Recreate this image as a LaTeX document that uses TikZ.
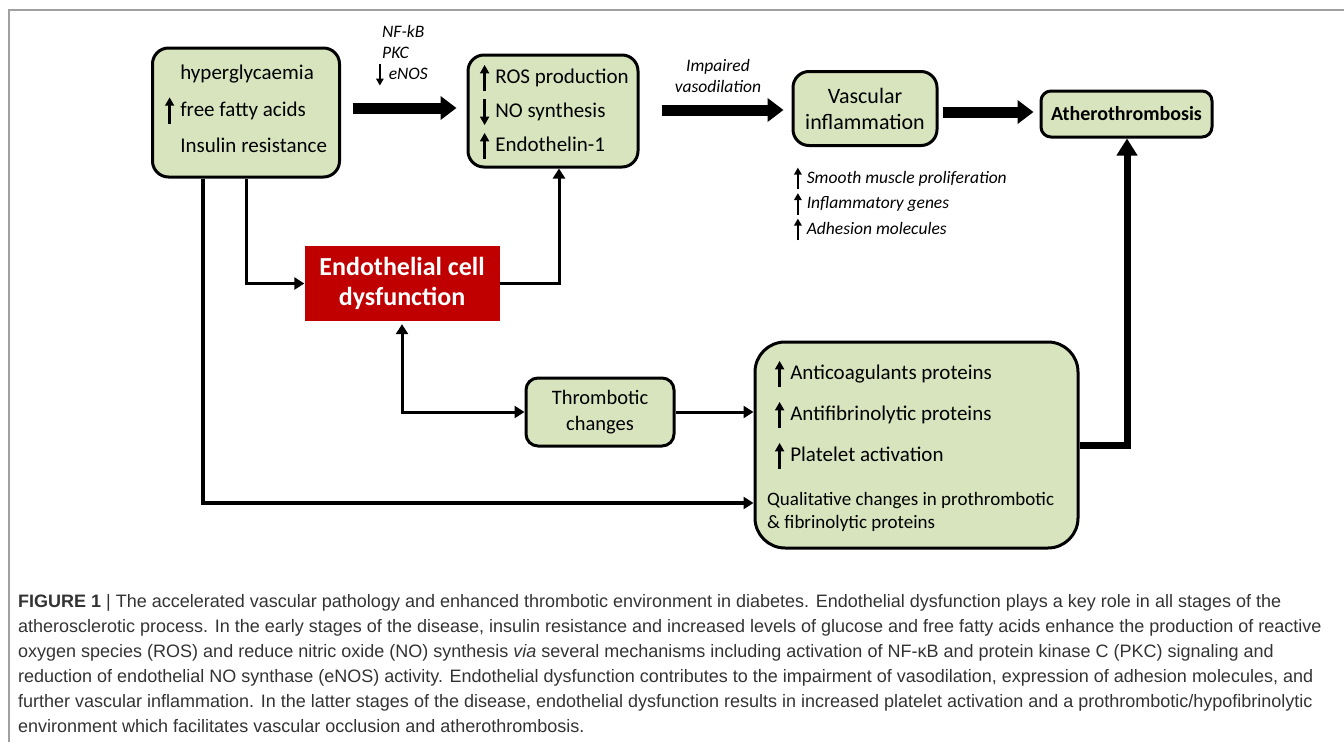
\documentclass[tikz,border=0pt]{standalone}
\usepackage{fontspec}
\setmainfont{Carlito}
\newfontfamily\capfont{Liberation Sans}
\usepackage{tikz}
\usetikzlibrary{positioning,arrows.meta}
\definecolor{boxgreen}{HTML}{D7E4BD}
\definecolor{ecdred}{HTML}{C00000}
\definecolor{capgray}{HTML}{333333}
\definecolor{framegray}{HTML}{A0A0A0}
\newcommand{\up}{\tikz[baseline=0pt]\draw[line width=0.12em,-{Triangle[length=0.4em,width=0.42em]}] (0,-0.35em) -- (0,0.9em);\kern0.3em}
\newcommand{\dn}{\tikz[baseline=0pt]\draw[line width=0.12em,-{Triangle[length=0.4em,width=0.42em]}] (0,0.9em) -- (0,-0.35em);\kern0.3em}
\newcommand{\phup}{\hphantom{\up}}

\begin{document}
\begin{tikzpicture}[x=1pt,y=-1pt,
    box/.style={draw,line width=3pt,rounded corners=16pt,fill=boxgreen,inner sep=0pt,align=center},
    txt/.style={inner sep=0pt,align=left},
    link/.style={line width=3pt,-{Triangle[length=10pt,width=12pt]}},
    wide/.style={line width=11pt,-{Triangle[length=16pt,width=23pt]}}]
    \useasboundingbox (0,0) rectangle (1344,742);
    \draw[framegray,line width=2pt] (9,742) |- (1344,10);
    \node[box,minimum width=187,minimum height=129] (in) at (246,112.5) {};
    \node[txt,anchor=west,font=\fontsize{21}{36.5}\selectfont] (intxt) at (165,109) {\phup hyperglycaemia\\\up free fatty acids\\\phup Insulin resistance};
    \node[box,minimum width=170,minimum height=112] (ros) at (553,111) {};
    \node[txt,anchor=west,font=\fontsize{21}{34}\selectfont] (rostxt) at (480,112) {\up ROS production\\\dn NO synthesis\\\up Endothelin-1};
    \node[box,minimum width=144,minimum height=74,font=\fontsize{22}{26}\selectfont] (vasc) at (865,108.5) {Vascular\\inflammation};
    \node[box,minimum width=171,minimum height=46,rounded corners=10pt,font=\bfseries\fontsize{20}{24}\selectfont] (ath) at (1126.5,114) {Atherothrombosis};
    \node[fill=ecdred,text=white,minimum width=195,minimum height=75,inner sep=0pt,align=center,font=\bfseries\fontsize{26}{30}\selectfont] (ecd) at (402,283.5) {Endothelial cell\\dysfunction};
    \node[box,minimum width=148,minimum height=68,rounded corners=12pt,font=\fontsize{20.5}{26}\selectfont] (thr) at (600,412) {Thrombotic\\changes};
    \node[box,minimum width=323,minimum height=206,rounded corners=30pt] (pro) at (916.5,445) {};
    \node[txt,anchor=west,font=\fontsize{21}{41}\selectfont] (protxt) at (775,415) {\up Anticoagulants proteins\\\up Antifibrinolytic proteins\\\up Platelet activation};
    \node[txt,anchor=west,font=\fontsize{19}{23}\selectfont] (qualtxt) at (767,511.5) {Qualitative changes in prothrombotic\\\& fibrinolytic proteins};
    \node[txt,anchor=west,font=\itshape\fontsize{17.5}{21}\selectfont] (mech) at (376,56) {\hspace*{6pt}NF-kB\\\hspace*{6pt}PKC\\\dn eNOS};
    \node[txt,align=center,font=\itshape\fontsize{17.5}{21}\selectfont] (imp) at (718,76) {Impaired\\vasodilation};
    \node[txt,anchor=west,font=\itshape\fontsize{17.5}{25.5}\selectfont] (eff) at (794,204) {\up Smooth muscle proliferation\\\up Inflammatory genes\\\up Adhesion molecules};
    \draw[wide] ([xshift=11.5,yshift=4.5]in.east) -- ([xshift=-10,yshift=3]ros.west);
    \draw[wide] ([xshift=22,yshift=1]ros.east) -- ([xshift=-8,yshift=-1.5]vasc.west);
    \draw[wide] ([xshift=4,yshift=-3.5]vasc.east) -- ([xshift=-6,yshift=2]ath.west);
    \draw[link] (in.south) |- (ecd.west);
    \draw[link] (ecd.east) -| ([xshift=6]ros.south);
    \draw[link,{Triangle[length=10pt,width=12pt]}-{Triangle[length=10pt,width=12pt]}] ([yshift=-3]ecd.south) |- (thr.west);
    \draw[link] (thr.east) -- (thr.east -| pro.west);
    \draw[link,line width=4pt] ([xshift=-43]in.south) |- ([yshift=-58]pro.west);
    \draw[line width=7pt,-{Triangle[length=17pt,width=20pt]}] (pro.east) -| ([xshift=0.5]ath.south);
    \node[txt,anchor=north west,text=capgray,font=\capfont\fontsize{18}{25}\selectfont] (cap) at (18,594) {{\bfseries FIGURE 1} | The accelerated vascular pathology and enhanced thrombotic environment in diabetes. Endothelial dysfunction plays a key role in all stages of the\\
    atherosclerotic process. In the early stages of the disease, insulin resistance and increased levels of glucose and free fatty acids enhance the production of reactive\\
    oxygen species (ROS) and reduce nitric oxide (NO) synthesis \textit{via} several mechanisms including activation of NF-κB and protein kinase C (PKC) signaling and\\
    reduction of endothelial NO synthase (eNOS) activity. Endothelial dysfunction contributes to the impairment of vasodilation, expression of adhesion molecules, and\\
    further vascular inflammation. In the latter stages of the disease, endothelial dysfunction results in increased platelet activation and a prothrombotic/hypofibrinolytic\\
    environment which facilitates vascular occlusion and atherothrombosis.};
\end{tikzpicture}
\end{document}
